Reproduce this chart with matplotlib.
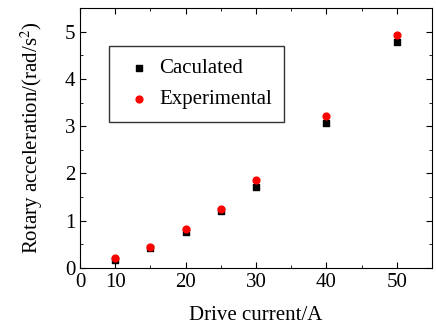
import matplotlib
matplotlib.use("Agg")
import matplotlib.pyplot as plt
from matplotlib.ticker import MultipleLocator

plt.rcParams['font.family'] = ['Liberation Serif', 'DejaVu Serif']
plt.rcParams['mathtext.fontset'] = 'stix'

current = [10, 15, 20, 25, 30, 40, 50]
calculated = [0.17, 0.42, 0.76, 1.20, 1.71, 3.06, 4.79]
experimental = [0.21, 0.45, 0.83, 1.25, 1.87, 3.21, 4.93]
xtick_pos = [5, 10, 20, 30, 40, 50]
xtick_labels = ["0", "10", "20", "30", "40", "50"]
ytick_pos = [0, 1, 2, 3, 4, 5]

fig = plt.figure(figsize=(4.36, 3.25), dpi=100)
ax = fig.add_axes([80/436, 1-268/325, (432-80)/436, (268-8)/325])

ax.scatter(current, calculated, marker='s', s=20, color='black', label='Caculated', zorder=3)
ax.scatter(current, experimental, marker='o', s=24, color='red', label='Experimental', zorder=4)

ax.set_xlim(5, 55)
ax.set_ylim(0, 5.5)
ax.set_xticks(xtick_pos)
ax.set_xticklabels(xtick_labels)
ax.set_yticks(ytick_pos)
ax.xaxis.set_minor_locator(MultipleLocator(5))
ax.yaxis.set_minor_locator(MultipleLocator(0.5))
ax.tick_params(which='both', direction='in', top=True, right=True, labelsize=15)
ax.tick_params(which='major', length=4)
ax.tick_params(which='minor', length=2)
ax.set_xlabel('Drive current/A', fontsize=15, labelpad=10)
ax.set_ylabel('Rotary acceleration/(rad/s$^2$)', fontsize=15, labelpad=14)

leg = ax.legend(loc='upper left', bbox_to_anchor=(29/352, 1-(46-8)/260), fontsize=15,
                frameon=True, fancybox=False, edgecolor='black', handletextpad=0.1,
                borderpad=0.6, labelspacing=0.55, handlelength=1.7, borderaxespad=0)
leg.get_frame().set_linewidth(1.0)

fig.savefig('out.png', dpi=100)
